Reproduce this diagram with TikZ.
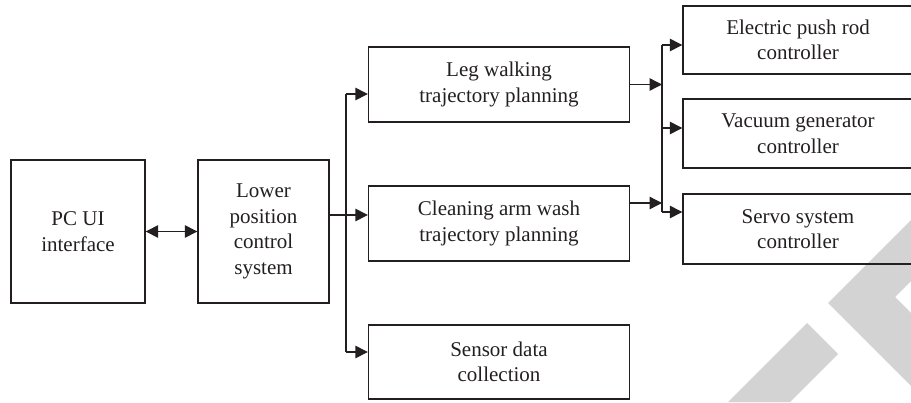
\documentclass[tikz,border=0pt]{standalone}
\usepackage{fontspec}
\setmainfont{Liberation Serif}
\usetikzlibrary{arrows.meta}
\definecolor{linegray}{RGB}{35,31,32}
\definecolor{markgray}{RGB}{211,211,211}
\begin{document}
\begin{tikzpicture}[x=1pt,y=-1pt,
  box/.style={draw=linegray, line width=1.4pt, align=center, inner sep=0pt,
              text=linegray, font=\fontsize{21}{25.5}\selectfont},
  wire/.style={draw=linegray, line width=1.4pt},
  tip/.tip={Triangle[length=12.5pt,width=12.5pt]},
  link/.style={wire, -tip},
  biglink/.style={wire, tip-tip},
]
\useasboundingbox (0,0) rectangle (911,402);
\clip (0,0) rectangle (911,402);

% corner mark in the lower right
\fill[markgray] (807,323) -- (838,354) -- (790,402) -- (728,402) -- cycle;
\fill[markgray] (828,303) -- (930,201) -- (930,262) -- (895,297)
                -- (930,332) -- (930,405) -- cycle;

% blocks
\node[box, minimum width=134, minimum height=143] (pc) at (78,231.5) {PC UI\\interface};
\node[box, minimum width=131, minimum height=143] (lower) at (263.5,231.5) {Lower\\position\\control\\system};

\node[box, minimum width=261, minimum height=75] (leg) at (499,84.5) {Leg walking\\trajectory planning};
\node[box, minimum width=261, minimum height=75] (clean) at (499,223.5) {Cleaning arm wash\\trajectory planning};
\node[box, minimum width=261, minimum height=74] (sensor) at (499,362) {Sensor data\\collection};

\node[box, minimum width=230, minimum height=68] (electric) at (798,40) {Electric push rod\\controller};
\node[box, minimum width=230, minimum height=69] (vacuum) at (798,133.5) {Vacuum generator\\controller};
\node[box, minimum width=230, minimum height=70] (servo) at (798,229) {Servo system\\controller};

% branch points
\coordinate (lj) at (346,215);
\coordinate (ltop) at (346,94);
\coordinate (lbot) at (346,352);
\coordinate (cr) at (630,203);
\coordinate (rtop) at (662,45);
\coordinate (rmid) at (662,128);
\coordinate (rbot) at (662,212);

% connectors
\draw[biglink] (pc) -- (lower);
\draw[link] (lower.east |- lj) -- (clean.west |- lj);
\draw[wire] (ltop) -- (lbot);
\draw[link] (ltop) -- (leg.west |- ltop);
\draw[link] (lbot) -- (sensor.west |- lbot);

\draw[link] (leg.east) -- (rtop |- leg.east);
\draw[link] (clean.east |- cr) -- (rtop |- cr);
\draw[wire] (rtop) -- (rbot);
\draw[link] (rtop) -- (electric.west |- rtop);
\draw[link] (rmid) -- (vacuum.west |- rmid);
\draw[link] (rbot) -- (servo.west |- rbot);
\end{tikzpicture}
\end{document}
